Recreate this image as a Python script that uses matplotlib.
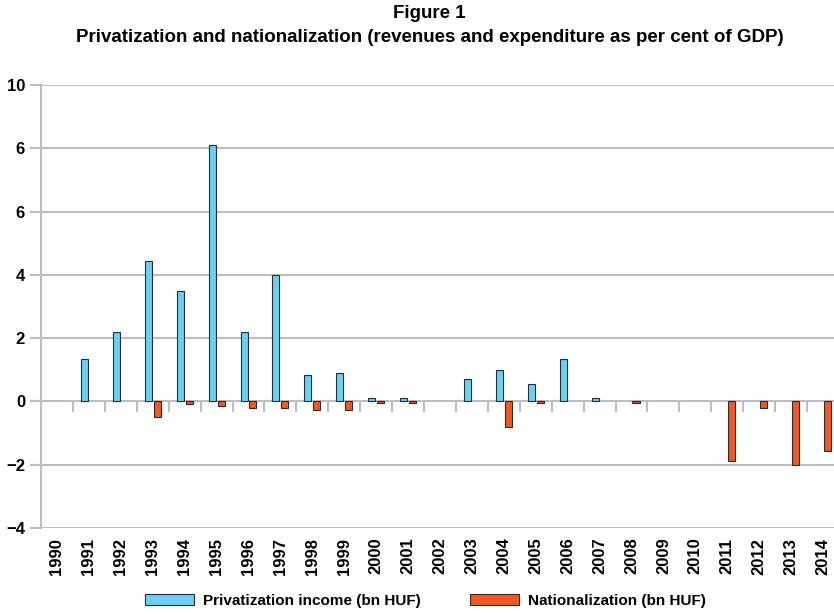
import numpy as np
import matplotlib
matplotlib.use("Agg")
import matplotlib.pyplot as plt

# data
years = [str(y) for y in range(1990, 2015)]
privatization = [0, 1.33, 2.2, 4.43, 3.5, 8.1, 2.2, 4.0, 0.82, 0.91, 0.1, 0.1, 0,
                 0.72, 1.0, 0.54, 1.33, 0.1, 0, 0, 0, 0, 0, 0, 0]
nationalization = [0, 0, 0, -0.5, -0.08, -0.15, -0.2, -0.2, -0.28, -0.28, -0.05, -0.05, 0,
                   0, -0.8, -0.05, 0, 0, -0.05, 0, 0, -1.87, -0.2, -2.0, -1.58]
yticks = [-4, -2, 0, 2, 4, 6, 8, 10]
ytick_labels = ["\u22124", "\u22122", "0", "2", "4", "6", "6", "10"]

plt.rcParams['font.family'] = ['Liberation Sans', 'DejaVu Sans']
plt.rcParams['font.weight'] = 'bold'

blue = '#6dcff6'
orange = '#f15a24'
grid_c = '#bdbdc1'

fig = plt.figure(figsize=(8.34, 6.14), dpi=100)
ax = fig.add_axes([41 / 834, 1 - 528 / 614, 798 / 834, 443 / 614])

x = np.arange(len(years))
p = np.array(privatization)
n = np.array(nationalization)
w = 0.22
mp = p != 0
mn = n != 0
ax.bar(x[mp] - 0.14, p[mp], w, color=blue, edgecolor='#2b2b2b', linewidth=0.8, zorder=3,
       label='Privatization income (bn HUF)')
ax.bar(x[mn] + 0.14, n[mn], w, color=orange, edgecolor='#2b2b2b', linewidth=0.8, zorder=3,
       label='Nationalization (bn HUF)')

# small ticks hanging from the zero line between years
ax.vlines(np.arange(len(years) - 1) + 0.5, -0.32, 0, color=grid_c, linewidth=1.5, zorder=2)

ax.set_xlim(-0.5, len(years) - 0.5)
ax.set_ylim(-4, 10)
ax.set_yticks(yticks)
ax.set_yticklabels(ytick_labels, fontsize=12, fontweight='bold')
ax.set_xticks(x)
ax.set_xticklabels(years, rotation=90, fontsize=12, fontweight='bold', va='top')
ax.tick_params(axis='x', length=0, pad=7)
ax.tick_params(axis='y', length=8, width=1.5, color=grid_c, pad=3.5)
ax.grid(axis='y', color=grid_c, linewidth=1.5, zorder=1)
for s in ['top', 'right', 'bottom']:
    ax.spines[s].set_visible(False)
ax.spines['left'].set_color(grid_c)
ax.spines['left'].set_linewidth(1.5)

fig.text(0.515, 1 - 14 / 614, 'Figure 1', ha='center', va='center', fontsize=13.5, fontweight='bold')
fig.text(0.515, 1 - 38 / 614,
         'Privatization and nationalization (revenues and expenditure as per cent of GDP)',
         ha='center', va='center', fontsize=13.5, fontweight='bold')

fig.legend(loc='center', bbox_to_anchor=(0.51, 1 - 601 / 614), ncol=2, frameon=False,
           fontsize=11, handlelength=3.2, handleheight=0.75, handletextpad=0.6,
           columnspacing=3.2)

fig.savefig('out.png', dpi=100)
